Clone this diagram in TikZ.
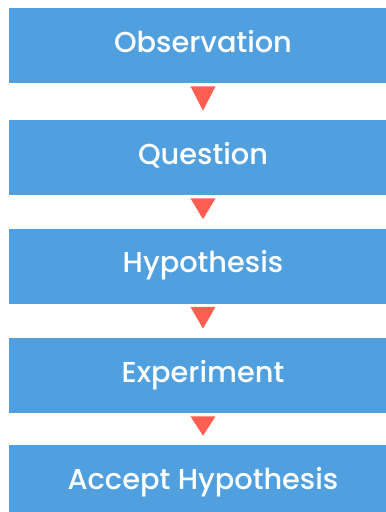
\documentclass[tikz,border=0pt]{standalone}
\usepackage{fontspec}
\setmainfont{Poppins}[UprightFont=* Medium]
\usetikzlibrary{calc}

\definecolor{stageblue}{RGB}{80,160,223}
\definecolor{pointerred}{RGB}{255,94,80}

\begin{document}
\begin{tikzpicture}[x=0.02cm, y=-0.02cm,
        stage/.style={rectangle, fill=stageblue, text=white, inner sep=0pt,
            minimum width=7.76cm, minimum height=1.5cm,
            text height=7.5pt, text depth=0pt,
            font=\fontsize{16.4}{20}\selectfont},
        pointer/.style={fill=pointerred}
    ]

    % Frame of the page
    \clip (0,0) rectangle (386,512);

    % Stages of the method
    \node[stage] (obs) at (203,45.5) {Observation};
    \node[stage] (quest) at (203,157.5) {Question};
    \node[stage] (hypo) at (203,266) {Hypothesis};
    \node[stage] (exp) at (203,375.5) {Experiment};
    \node[stage] (accept) at (203,482.5) {Accept Hypothesis};

    % Pointers between stages
    \foreach \a/\b in {obs/quest, quest/hypo, hypo/exp, exp/accept}
        \fill[pointer] ($(\a.south)+(-12.5,3)$) -- ($(\a.south)+(12.5,3)$) -- ($(\b.north)+(0,-9)$) -- cycle;

\end{tikzpicture}
\end{document}
